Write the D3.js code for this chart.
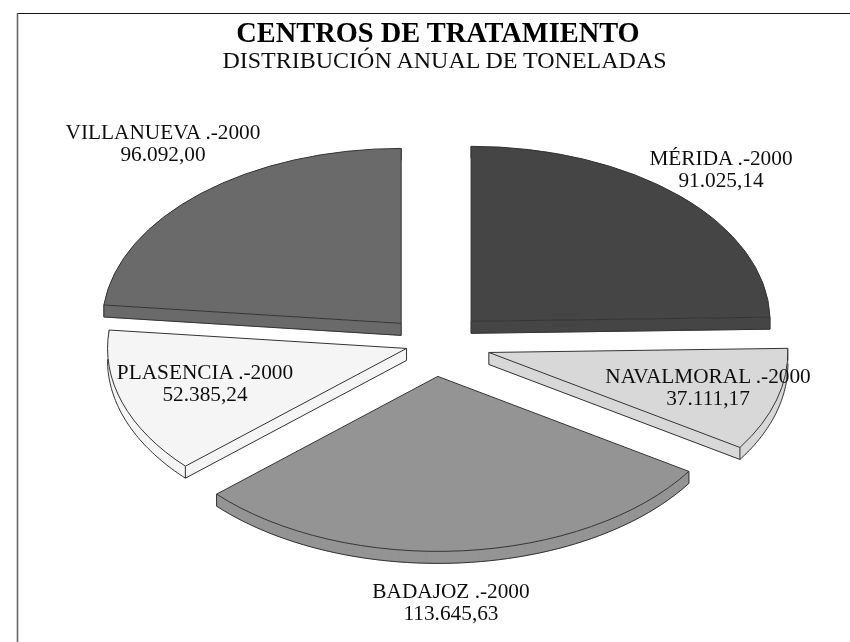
<!DOCTYPE html>
<html>
<head>
<meta charset="utf-8">
<script src="https://cdn.jsdelivr.net/npm/d3@7"></script>
<style>
  body { margin: 0; background: #fff; }
  text { font-family: "Liberation Serif", serif; fill: #111; }
</style>
</head>
<body>
<script>
//==============================================================================
// DATA
//==============================================================================

const categories = ['MÉRIDA', 'NAVALMORAL', 'BADAJOZ', 'PLASENCIA', 'VILLANUEVA'];
const printedValues = ['91.025,14', '37.111,17', '113.645,63', '52.385,24', '96.092,00'];
// wedge sizes: in the picture the Mérida and Villanueva wedges have each other's angle
const wedgeValues = [96092.00, 37111.17, 113645.63, 52385.24, 91025.14];
const explode = [0.94, 1, 1, 0.48, 0.82];
const shades = ['#454545', '#d8d8d8', '#949494', '#f5f5f5', '#6b6b6b'];

//==============================================================================
// PARAMETERS
//==============================================================================

const width = 850, height = 642;
const cx = 433, cy = 343.5;
const rx = 299, ry = 175;
const ex = 58, ey = 33;   // full explode distance
const depth = 12;
const R = 100;            // arc radius before squashing to the ellipse

// label centre x and first baseline
const labelPos = [[721, 165], [708, 383], [451, 598], [205, 379], [163, 139]];

const svg = d3.select('body').append('svg')
  .attr('width', width)
  .attr('height', height);

//==============================================================================
// DRAW
//==============================================================================

const pie = d3.pie().sort(null).value(d => d);
const arc = d3.arc().innerRadius(0).outerRadius(R);
const arcs = pie(wedgeValues);

const defs = svg.append('defs');
defs.append('filter').attr('id', 'soft')
  .append('feGaussianBlur').attr('stdDeviation', 0.6);
defs.append('filter').attr('id', 'softText')
  .append('feGaussianBlur').attr('stdDeviation', 0.35);

// frame, open on the right and at the bottom
svg.append('path')
  .attr('d', d3.line()([[850, 13.5], [17, 13.5]]))
  .attr('stroke', '#111')
  .attr('stroke-width', 1);

svg.append('path')
  .attr('d', d3.line()([[17.5, 13], [17.5, 642]]))
  .attr('stroke', '#666')
  .attr('stroke-width', 1.6);

const marks = svg.append('g').attr('filter', 'url(#soft)');

const slices = marks.selectAll('g.slice')
  .data(arcs)
  .enter()
  .append('g')
  .attr('class', 'slice');

slices.each(function (d, i) {
  const g = d3.select(this);
  const mid = (d.startAngle + d.endAngle) / 2;
  const ax = cx + Math.sin(mid) * ex * explode[i];
  const ay = cy - Math.cos(mid) * ey * explode[i];
  const rim = t => [ax + rx * Math.sin(t), ay - ry * Math.cos(t)];

  // outline runs clockwise on screen, so edges heading left face the viewer
  const steps = d3.range(0, 61).map(k => d.startAngle + (d.endAngle - d.startAngle) * k / 60);
  const outline = [[ax, ay], ...steps.map(rim), [ax, ay]];

  let wall = '', bottom = '';
  d3.pairs(outline).forEach(([p, q]) => {
    if (q[0] - p[0] < 0) {
      wall += `M${p}L${q}L${q[0]},${q[1] + depth}L${p[0]},${p[1] + depth}Z`;
      bottom += `M${p[0]},${p[1] + depth}L${q[0]},${q[1] + depth}`;
    }
  });

  g.append('path')
    .attr('d', wall)
    .attr('fill', shades[i])
    .attr('stroke', shades[i])
    .attr('stroke-width', 0.6);

  g.append('path')
    .attr('d', bottom)
    .attr('fill', 'none')
    .attr('stroke', '#333')
    .attr('stroke-width', 1);

  // corner uprights
  [[ax, ay], rim(d.startAngle), rim(d.endAngle)].forEach(c => {
    g.append('line')
      .attr('x1', c[0]).attr('y1', c[1])
      .attr('x2', c[0]).attr('y2', c[1] + depth)
      .attr('stroke', '#333')
      .attr('stroke-width', 1);
  });

  // top face
  g.append('path')
    .attr('d', arc(d))
    .attr('transform', `translate(${ax},${ay}) scale(${rx / R},${ry / R})`)
    .attr('fill', shades[i])
    .attr('stroke', '#333')
    .attr('stroke-width', 1)
    .attr('vector-effect', 'non-scaling-stroke');
});

const words = svg.append('g').attr('filter', 'url(#softText)');

// titles
words.append('text')
  .attr('x', 438).attr('y', 42)
  .attr('text-anchor', 'middle')
  .attr('font-size', 28.4)
  .attr('font-weight', 'bold')
  .style('fill', '#000')
  .text('CENTROS DE TRATAMIENTO');

words.append('text')
  .attr('x', 444.5).attr('y', 68)
  .attr('text-anchor', 'middle')
  .attr('font-size', 24)
  .text('DISTRIBUCIÓN ANUAL DE TONELADAS');

// labels
const labels = words.selectAll('g.label')
  .data(categories)
  .enter()
  .append('g')
  .attr('class', 'label')
  .attr('text-anchor', 'middle')
  .attr('font-size', 21.3);

labels.append('text')
  .attr('x', (d, i) => labelPos[i][0])
  .attr('y', (d, i) => labelPos[i][1])
  .text(d => d + ' .-2000');

labels.append('text')
  .attr('x', (d, i) => labelPos[i][0])
  .attr('y', (d, i) => labelPos[i][1] + 21.5)
  .text((d, i) => printedValues[i]);
</script>
</body>
</html>
